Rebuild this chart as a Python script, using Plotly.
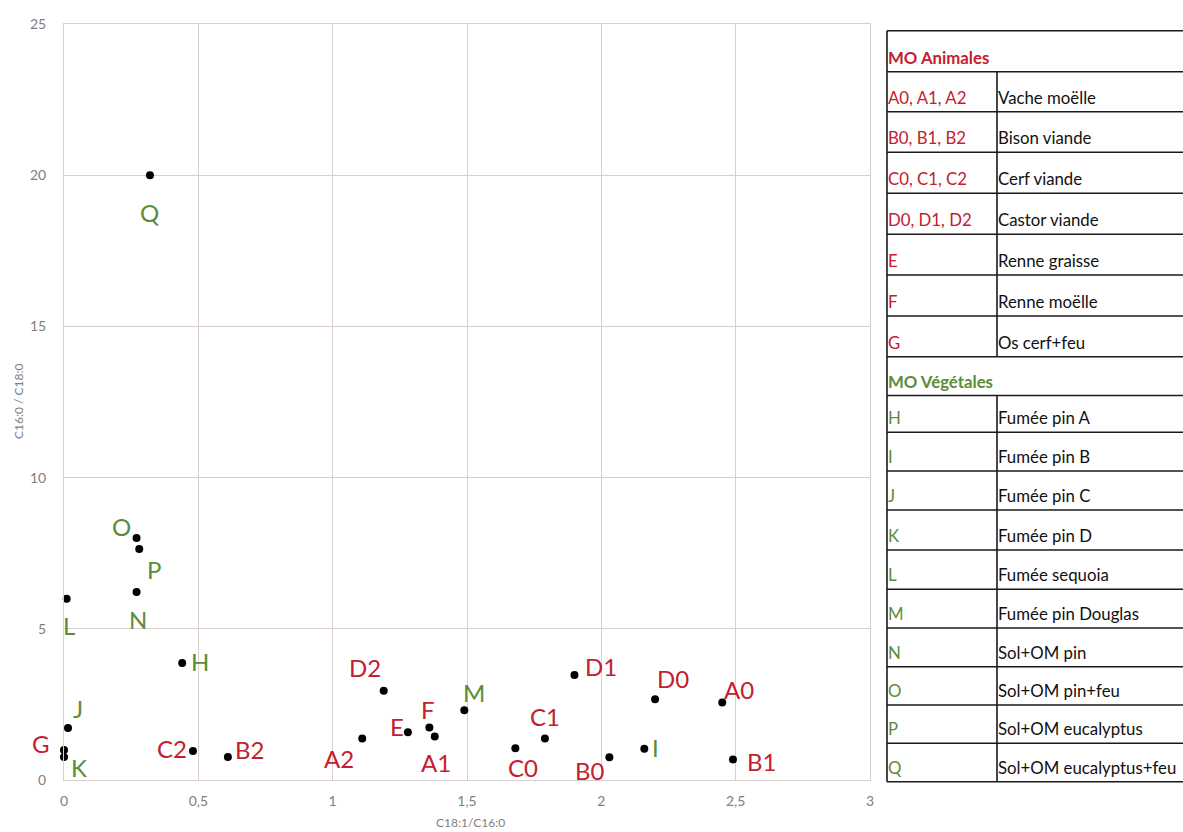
import plotly.graph_objects as go

# ---------------- data ----------------
animal_labels = ["A0", "A1", "A2", "B0", "B1", "B2", "C0", "C1", "C2", "D0", "D1", "D2", "E", "F", "G"]
animal_x = [2.45, 1.38, 1.11, 2.03, 2.49, 0.61, 1.68, 1.79, 0.48, 2.20, 1.90, 1.19, 1.28, 1.36, 0.0]
animal_y = [2.56, 1.44, 1.37, 0.75, 0.68, 0.76, 1.05, 1.37, 0.96, 2.67, 3.47, 2.95, 1.58, 1.74, 0.99]

plant_labels = ["H", "I", "J", "K", "L", "M", "N", "O", "P", "Q"]
plant_x = [0.44, 2.16, 0.015, 0.0, 0.01, 1.49, 0.27, 0.27, 0.28, 0.32]
plant_y = [3.87, 1.03, 1.72, 0.76, 5.99, 2.31, 6.22, 8.0, 7.64, 20.0]

x_ticks = [0, 0.5, 1, 1.5, 2, 2.5, 3]
y_ticks = [0, 5, 10, 15, 20, 25]
x_title = "C18:1/C16:0"
y_title = "C16:0 / C18:0"

animal_codes = ["A0, A1, A2", "B0, B1, B2", "C0, C1, C2", "D0, D1, D2", "E", "F", "G"]
animal_desc = ["Vache moëlle", "Bison viande", "Cerf viande", "Castor viande",
               "Renne graisse", "Renne moëlle", "Os cerf+feu"]
plant_codes = ["H", "I", "J", "K", "L", "M", "N", "O", "P", "Q"]
plant_desc = ["Fumée pin A", "Fumée pin B", "Fumée pin C", "Fumée pin D", "Fumée sequoia",
              "Fumée pin Douglas", "Sol+OM pin", "Sol+OM pin+feu", "Sol+OM eucalyptus",
              "Sol+OM eucalyptus+feu"]

# ---------------- styles / layout ----------------
RED = "#c3202f"
GREEN = "#5b8c38"
GRID = "#d8cecb"
TICK = "#808080"
FONT = "Lato"

OFF = 0  # page body margin removed via post_script
W, H = 1183 - OFF, 832 - OFF
L, R, T, B = 64 - OFF, 870 - OFF, 24 - OFF, 780 - OFF  # plot area in figure pixels

# label offsets in pixels (dx right, dy down) relative to each point
animal_off = {"A0": (17, -13), "A1": (1, 26), "A2": (-23, 20), "B0": (-19, 13), "B1": (29, 2),
              "B2": (22, -8), "C0": (8, 19), "C1": (0, -22), "C2": (-21, -2), "D0": (18, -21),
              "D1": (27, -9), "D2": (-19, -23), "E": (-11, -6), "F": (-1, -18), "G": (-23, -7)}
plant_off = {"H": (18, -1), "I": (11, -1), "J": (10, -19), "K": (15, 10), "L": (2, 27),
             "M": (10, -18), "N": (1, 28), "O": (-15, -12), "P": (15, 21), "Q": (0, 37)}


def px(x):
    # x given in page pixels
    return (x - OFF - L) / (R - L)


def py(y):
    return (B - (y - OFF)) / (B - T)


fig = go.Figure()
fig.add_trace(go.Scatter(x=animal_x + plant_x, y=animal_y + plant_y, mode="markers",
                         marker=dict(color="black", size=8), cliponaxis=False,
                         hoverinfo="skip", showlegend=False))

annotations = []
for lab, x, y in zip(animal_labels, animal_x, animal_y):
    dx, dy = animal_off[lab]
    annotations.append(dict(x=x, y=y, xref="x", yref="y", text=lab, showarrow=False,
                            xshift=dx, yshift=-dy, xanchor="center", yanchor="middle",
                            font=dict(family=FONT, size=24, color=RED)))
for lab, x, y in zip(plant_labels, plant_x, plant_y):
    dx, dy = plant_off[lab]
    annotations.append(dict(x=x, y=y, xref="x", yref="y", text=lab, showarrow=False,
                            xshift=dx, yshift=-dy, xanchor="center", yanchor="middle",
                            font=dict(family=FONT, size=24, color=GREEN)))

# axis titles
annotations.append(dict(x=px(470), y=py(822), xref="paper", yref="paper", text=x_title,
                        showarrow=False, xanchor="center", yanchor="middle",
                        font=dict(family=FONT, size=12, color=TICK)))
annotations.append(dict(x=px(18), y=py(402), xref="paper", yref="paper", text=y_title,
                        showarrow=False, xanchor="center", yanchor="middle", textangle=-90,
                        font=dict(family=FONT, size=12, color=TICK)))

# ---------------- table (page pixel positions) ----------------
shapes = []
TL, TD, TR = 887, 997, 1200
top = 30.7
animal_lines = [71.7, 111.7, 152.3, 193.3, 234.3, 275, 316, 356.7]
veg_header = 395.5
plant_lines = [432.3, 471, 510, 550, 589.3, 628, 666.7, 705, 743.3, 781.7]
all_lines = [top] + animal_lines + [veg_header] + plant_lines

line_style = dict(color="#1a1a1a", width=1.6)
for yl in all_lines:
    shapes.append(dict(type="line", xref="paper", yref="paper", x0=px(TL), x1=px(TR),
                       y0=py(yl), y1=py(yl), line=line_style))
shapes.append(dict(type="line", xref="paper", yref="paper", x0=px(TL), x1=px(TL),
                   y0=py(top), y1=py(plant_lines[-1]), line=line_style))
shapes.append(dict(type="line", xref="paper", yref="paper", x0=px(TD), x1=px(TD),
                   y0=py(animal_lines[0]), y1=py(animal_lines[-1]), line=line_style))
shapes.append(dict(type="line", xref="paper", yref="paper", x0=px(TD), x1=px(TD),
                   y0=py(veg_header), y1=py(plant_lines[-1]), line=line_style))


def cell_text(x, ybottom, text, color, bold=False):
    t = f"<b>{text}</b>" if bold else text
    return dict(x=px(x), y=py(ybottom - 2), xref="paper", yref="paper", text=t,
                showarrow=False, xanchor="left", yanchor="bottom",
                font=dict(family=FONT, size=16.8, color=color))


annotations.append(cell_text(TL - 1, animal_lines[0], "MO Animales", RED, bold=True))
for i, (c, d) in enumerate(zip(animal_codes, animal_desc)):
    yb = animal_lines[i + 1]
    annotations.append(cell_text(TL - 1, yb, c, RED))
    annotations.append(cell_text(TD - 1, yb, d, "#111111"))
annotations.append(cell_text(TL - 1, veg_header, "MO Végétales", GREEN, bold=True))
for i, (c, d) in enumerate(zip(plant_codes, plant_desc)):
    yb = plant_lines[i]
    annotations.append(cell_text(TL - 1, yb, c, GREEN))
    annotations.append(cell_text(TD - 1, yb, d, "#111111"))

fig.update_layout(
    width=W, height=H,
    margin=dict(l=L, r=W - R, t=T, b=H - B, pad=0, autoexpand=False),
    paper_bgcolor="white", plot_bgcolor="white",
    separators=", ",
    font=dict(family=FONT, color=TICK),
    xaxis=dict(range=[0, 3], tickvals=x_ticks, showgrid=True, gridcolor=GRID, gridwidth=1,
               zeroline=False, showline=True, linecolor=GRID, mirror=True, ticks="",
               automargin=False, ticklabelstandoff=8,
               tickfont=dict(size=14, color=TICK)),
    yaxis=dict(range=[0, 25], tickvals=y_ticks, showgrid=True, gridcolor=GRID, gridwidth=1,
               zeroline=False, showline=True, linecolor=GRID, mirror=True, ticks="",
               automargin=False, ticklabelstandoff=14,
               tickfont=dict(size=14, color=TICK)),
    shapes=shapes,
    annotations=annotations,
)

fig.write_html(
    "out.html",
    config={"displayModeBar": False},
    post_script=("document.body.style.margin='0';"
                 "document.body.style.overflow='hidden';"
                 "document.documentElement.style.overflow='hidden';"),
)
